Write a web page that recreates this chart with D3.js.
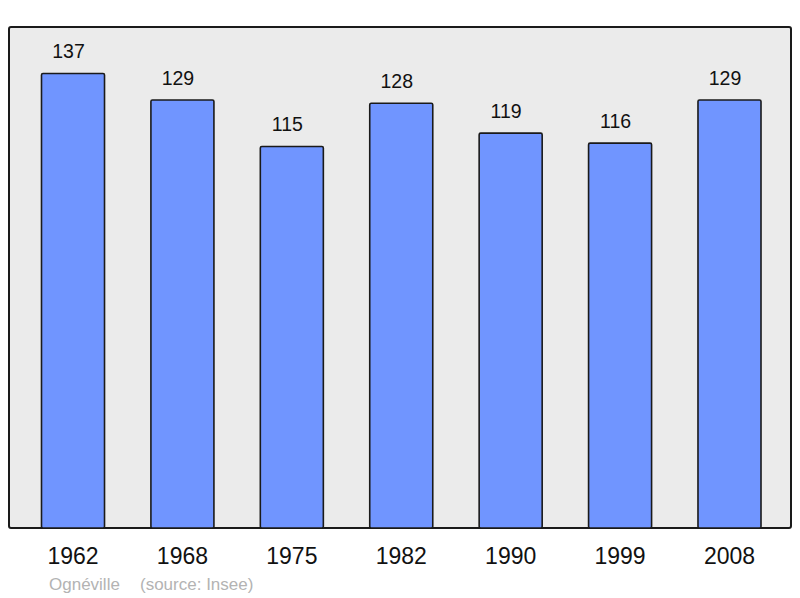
<!DOCTYPE html>
<html>
<head>
<meta charset="utf-8">
<script src="https://cdn.jsdelivr.net/npm/d3@7"></script>
<style>
  body { margin: 0; background: #fff; }
  svg { display: block; font-family: "Liberation Sans", Arial, sans-serif; }
</style>
</head>
<body>
<div id="chart"></div>
<script>
// Population data
const years = ["1962", "1968", "1975", "1982", "1990", "1999", "2008"];
const population = [137, 129, 115, 128, 119, 116, 129];
const commune = "Ognéville";
const source = "(source: Insee)";

const width = 800;
const height = 598;
const frame = { left: 9, top: 27, right: 791, bottom: 528 };

const svg = d3.select("#chart")
  .append("svg")
  .attr("width", width)
  .attr("height", height);

// Background frame
svg.append("rect")
  .attr("x", frame.left)
  .attr("y", frame.top)
  .attr("width", frame.right - frame.left)
  .attr("height", frame.bottom - frame.top)
  .attr("rx", 2)
  .attr("fill", "#ebebeb")
  .attr("stroke", "#1a1a1a")
  .attr("stroke-width", 2);

// Scales
const x = d3.scaleBand()
  .domain(years)
  .range([18.3, 784.2])
  .paddingInner(0.424)
  .paddingOuter(0.212);

const y = d3.scaleLinear()
  .domain([0, 151])
  .range([frame.bottom, frame.top]);

const data = years.map((yr, i) => ({ year: yr, value: population[i] }));

// Bars
svg.selectAll("rect.bar")
  .data(data)
  .enter()
  .append("rect")
  .attr("class", "bar")
  .attr("x", (d) => x(d.year))
  .attr("y", (d) => y(d.value))
  .attr("width", x.bandwidth())
  .attr("height", (d) => y(0) - y(d.value))
  .attr("rx", 1.5)
  .attr("fill", "#7095ff")
  .attr("stroke", "#1a1a1a")
  .attr("stroke-width", 1.6);

// Value labels (sit slightly left of the bar centre, as in the original)
svg.selectAll("text.value")
  .data(data)
  .enter()
  .append("text")
  .attr("class", "value")
  .attr("x", (d) => x(d.year) + x.bandwidth() / 2 - 4.5)
  .attr("y", (d) => y(d.value) - 15)
  .attr("text-anchor", "middle")
  .attr("font-size", "19.5px")
  .attr("fill", "#111")
  .text((d) => d.value);

// X axis labels (years)
const xAxis = svg.append("g")
  .attr("transform", `translate(0, ${frame.bottom})`)
  .call(d3.axisBottom(x).tickSize(0).tickPadding(0));
xAxis.select(".domain").remove();
xAxis.selectAll("text")
  .attr("dy", null)
  .attr("y", 36)
  .attr("font-size", "23px")
  .attr("font-family", "Liberation Sans, Arial, sans-serif")
  .attr("fill", "#111");

// Footer
svg.append("text")
  .attr("x", 49)
  .attr("y", 590)
  .attr("font-size", "17px")
  .attr("fill", "#b3b3b3")
  .text(commune);

svg.append("text")
  .attr("x", 140)
  .attr("y", 590)
  .attr("font-size", "17px")
  .attr("fill", "#b3b3b3")
  .text(source);
</script>
</body>
</html>
